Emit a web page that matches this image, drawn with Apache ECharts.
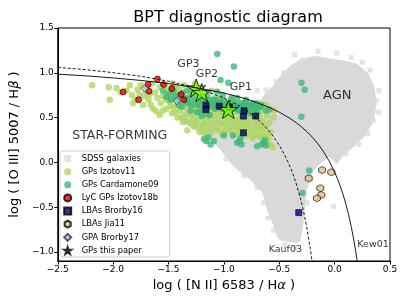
<!DOCTYPE html>
<html><head><meta charset="utf-8">
<script src="https://cdn.jsdelivr.net/npm/echarts@6/dist/echarts.min.js"></script>
<style>html,body{margin:0;padding:0;background:#fff}#c{width:407px;height:305px}</style>
</head><body><div id="c"></div>
<script>
// ---------- data ----------
const yTicks = [-1.0, -0.5, 0.0, 0.5, 1.0, 1.5];

const sdssOutline = [
  [-1.38,0.45],[-1.40,0.60],[-1.25,0.66],[-1.0,0.62],[-0.85,0.60],[-0.70,0.65],[-0.62,0.78],
  [-0.55,0.86],[-0.48,0.98],[-0.40,1.08],[-0.30,1.15],[-0.18,1.19],[-0.05,1.16],[0.08,1.14],
  [0.20,1.10],[0.30,1.00],[0.36,0.85],[0.38,0.65],[0.35,0.45],[0.28,0.30],[0.18,0.18],
  [0.08,0.08],[0.02,-0.02],[-0.05,0.06],[-0.12,0.0],[-0.19,-0.09],[-0.25,-0.30],[-0.27,-0.55],
  [-0.29,-0.75],[-0.31,-0.88],[-0.34,-0.90],[-0.49,-0.87],[-0.52,-0.83],[-0.56,-0.68],
  [-0.61,-0.53],[-0.65,-0.34],[-0.76,-0.20],[-0.91,-0.05],[-1.03,0.14],[-1.12,0.25],[-1.25,0.35]
];
const sdssPoints = [
  [-0.29,1.14],[-0.46,1.00],[-0.53,0.90],[-0.62,0.81],[-0.70,0.80],[-0.47,0.66],[-0.36,1.20],
  [-0.15,1.24],[0.02,1.22],[0.15,1.17],[0.25,1.12],[0.32,1.03],[0.38,0.69],[0.40,0.80],
  [0.35,0.47],[0.40,0.56],[0.30,0.32],[0.22,0.20],[0.10,0.10],[-0.01,-0.49],[-1.15,0.24],
  [-0.98,0.04],[-0.82,-0.15],[-0.70,-0.28],[-0.64,-0.45],[-0.60,-0.62],[-0.55,-0.76],
  [-0.45,-0.92],[-0.36,-0.95],[-0.25,-0.45],[-0.22,-0.20]
];
const izotov11 = [
  [-2.19,0.86],[-2.04,0.84],[-2.03,0.70],[-1.97,0.83],[-1.93,0.78],[-1.85,0.86],[-1.83,0.75],
  [-1.82,0.66],[-1.78,0.81],[-1.73,0.64],[-1.72,0.74],[-1.68,0.70],[-1.65,0.88],[-1.64,0.60],
  [-1.61,0.57],[-1.58,0.53],[-1.62,0.78],[-1.57,0.66],[-1.55,0.74],[-1.53,0.86],[-1.52,0.60],
  [-1.50,0.80],[-1.49,0.68],[-1.47,0.55],[-1.46,0.88],[-1.45,0.62],[-1.43,0.74],[-1.42,0.50],
  [-1.41,0.82],[-1.40,0.58],[-1.38,0.66],[-1.37,0.45],[-1.36,0.86],[-1.35,0.52],[-1.33,0.36],
  [-1.33,0.60],[-1.31,0.74],[-1.30,0.44],[-1.29,0.68],[-1.28,0.55],[-1.27,0.40],[-1.26,0.88],
  [-1.25,0.62],[-1.24,0.48],[-1.22,0.34],[-1.21,0.56],[-1.20,0.70],[-1.19,0.42],[-1.18,0.62],
  [-1.16,0.50],[-1.15,0.36],[-1.14,0.56],[-1.12,0.44],[-1.11,0.80],[-1.10,0.66],[-1.09,0.52],
  [-1.07,0.38],[-1.06,0.58],[-1.05,0.46],[-1.03,0.72],[-1.02,0.32],[-1.01,0.54],[-0.99,0.42],
  [-0.98,0.62],[-0.97,0.50],[-0.95,0.36],[-0.94,0.70],[-0.92,0.46],[-0.91,0.56],[-0.89,0.40],
  [-0.88,0.64],[-0.86,0.33],[-0.85,0.50],[-0.84,0.44],[-0.82,0.60],[-0.80,0.38],[-0.79,0.52],
  [-0.77,0.46],[-0.76,0.30],[-0.75,0.58],[-0.73,0.40],[-0.72,0.52],[-0.70,0.34],[-0.69,0.46],
  [-0.67,0.28],[-0.66,0.40],[-0.64,0.22],[-0.63,0.34],[-0.61,0.52],[-0.60,0.28],[-0.58,0.20],
  [-0.56,0.17],[-0.55,0.50],[-0.55,0.58],[-0.62,0.64],[-0.66,0.58],[-1.18,0.33],[-0.84,0.33],
  [-1.75,0.86],[-1.70,0.80],[-1.66,0.64],[-1.60,0.72],[-1.58,0.84],[-1.55,0.58],[-1.52,0.70],
  [-1.48,0.63],[-1.47,0.76],[-1.44,0.56],[-1.43,0.84],[-1.39,0.50],[-1.38,0.71],[-1.35,0.64],
  [-1.34,0.46],[-1.32,0.54],[-1.30,0.80],[-1.28,0.49],[-1.27,0.62],[-1.25,0.42],[-1.23,0.56],
  [-1.22,0.68],[-1.20,0.38],[-1.19,0.50],[-1.17,0.44],[-1.16,0.60],[-1.13,0.40],[-1.13,0.50],
  [-1.11,0.34],[-1.10,0.58],[-1.08,0.45],[-1.08,0.72],[-1.05,0.36],[-1.04,0.52],[-1.02,0.43],
  [-1.00,0.60],[-0.99,0.35],[-0.98,0.48],[-0.96,0.42],[-0.96,0.55],[-0.93,0.38],[-0.93,0.52],
  [-0.90,0.44],[-0.90,0.32],[-0.87,0.48],[-0.87,0.38],[-0.85,0.56],[-0.83,0.40],[-0.81,0.48],
  [-0.80,0.30],[-0.78,0.42],[-0.76,0.52],[-0.75,0.36],[-0.74,0.27],[-0.71,0.44],[-0.71,0.30],
  [-0.68,0.38],[-0.68,0.52],[-0.65,0.46],[-0.65,0.30],[-0.62,0.40],[-0.61,0.24],[-0.59,0.44],
  [-0.58,0.34],[-1.88,0.80],[-1.80,0.70],[-1.76,0.76],[-1.69,0.84],[-1.67,0.76]
];
const cardamone09 = [
  [-1.06,1.21],[-0.91,1.07],[-1.03,0.92],[-0.96,0.89],[-0.30,0.89],[-0.27,0.81],[-0.30,0.51],
  [-0.23,-0.09],[-0.29,-0.34],
  [-1.55,0.80],[-1.50,0.76],[-1.48,0.70],[-1.45,0.78],[-1.42,0.68],[-1.40,0.75],[-1.38,0.62],
  [-1.35,0.72],[-1.33,0.80],[-1.32,0.66],[-1.30,0.58],[-1.28,0.76],[-1.26,0.70],[-1.24,0.64],
  [-1.22,0.74],[-1.20,0.58],[-1.18,0.68],[-1.15,0.74],[-1.13,0.62],[-1.10,0.70],[-1.08,0.60],
  [-1.05,0.66],[-1.02,0.60],[-1.00,0.68],[-0.98,0.56],[-0.95,0.64],[-0.92,0.60],[-0.90,0.66],
  [-0.87,0.58],[-0.85,0.66],[-0.83,0.62],[-0.80,0.68],[-0.78,0.62],[-0.75,0.64],[-0.72,0.60],
  [-0.70,0.66],[-0.67,0.62],[-0.62,0.58],[-0.59,0.59],
  [-1.06,0.79],[-1.01,0.75],[-0.93,0.72],[-0.88,0.72],[-0.80,0.70],
  [-1.18,0.26],[-1.12,0.20],[-1.09,0.24],[-0.86,0.24],[-0.84,0.20],[-0.64,0.22],[-0.62,0.19],
  [-0.70,0.18],[-1.00,0.30],[-0.92,0.30],
  [-1.52,0.73],[-1.47,0.82],[-1.44,0.72],[-1.41,0.64],[-1.37,0.78],[-1.34,0.68],[-1.31,0.72],
  [-1.29,0.64],[-1.27,0.80],[-1.23,0.70],[-1.21,0.64],[-1.19,0.74],[-1.16,0.66],[-1.14,0.70],
  [-1.12,0.66],[-1.09,0.64],[-1.07,0.70],[-1.04,0.62],[-1.03,0.68],[-0.99,0.62],[-0.97,0.66],
  [-0.94,0.58],[-0.91,0.63],[-0.89,0.60],[-0.86,0.62],[-0.84,0.58],[-0.82,0.66],[-0.79,0.64],
  [-0.77,0.60],[-0.74,0.66],[-0.73,0.62],[-0.69,0.62],[-0.66,0.64],[-1.16,0.24],[-1.14,0.28],
  [-0.88,0.22],[-0.85,0.27],[-0.66,0.20],[-0.63,0.25],[-1.24,0.56],[-1.20,0.52],[-1.16,0.55],
  [-1.13,0.53],[-0.81,0.56],[-0.76,0.55],[-0.70,0.56]
];
const lycIzotov18b = [
  [-1.60,0.93],[-1.685,0.87],[-1.545,0.87],[-1.47,0.825],[-1.91,0.787],[-1.676,0.795],
  [-1.386,0.758],[-1.362,0.70],[-1.77,0.70]
];
const lbaBrorby16 = [
  [-1.162,0.639],[-1.162,0.591],[-1.042,0.628],[-0.95,0.62],[-0.818,0.576],[-0.823,0.517],
  [-0.713,0.517],[-0.823,0.331],[-0.324,-0.56]
];
const lbaJia11 = [
  [-0.234,-0.177],[-0.113,-0.085],[-0.03,-0.11],[-0.129,-0.288],[-0.12,-0.363],[-0.16,-0.40]
];
const gpaBrorby17 = [[-1.716,0.825],[-1.425,0.685]];
const gpThisPaper = [[-1.25,0.83],[-1.20,0.78],[-0.96,0.59]];

const kew01 = [
  [-2.5,0.985],[-2.25,0.966],[-2.0,0.943],[-1.75,0.915],[-1.5,0.880],[-1.25,0.835],[-1.0,0.775],
  [-0.8,0.710],[-0.6,0.620],[-0.5,0.561],[-0.4,0.489],[-0.35,0.446],[-0.3,0.398],[-0.25,0.343],
  [-0.2,0.280],[-0.15,0.206],[-0.1,0.120],[-0.05,0.017],[0.0,-0.108],[0.025,-0.181],[0.05,-0.262],
  [0.075,-0.354],[0.1,-0.459],[0.125,-0.578],[0.15,-0.716],[0.175,-0.878],[0.19,-0.989],
  [0.2,-1.069],[0.21,-1.156]
];
const kauf03 = [
  [-2.5,1.061],[-2.25,1.035],[-2.0,1.002],[-1.75,0.961],[-1.5,0.906],[-1.25,0.831],[-1.0,0.719],
  [-0.9,0.658],[-0.8,0.582],[-0.75,0.5375],[-0.7,0.487],[-0.65,0.429],[-0.6,0.362],[-0.55,0.283],
  [-0.5,0.191],[-0.45,0.080],[-0.425,0.016],[-0.4,-0.056],[-0.375,-0.135],[-0.35,-0.225],
  [-0.325,-0.327],[-0.3,-0.443],[-0.275,-0.577],[-0.25,-0.733],[-0.22,-0.959],[-0.21,-1.046],
  [-0.2,-1.14]
];

// annotations: x, y, text, font size
const annX = [-1.32, -1.153, -0.847, 0.024, -1.94, -0.445, 0.347];
const annY = [1.092, 0.981, 0.836, 0.75, 0.294, -0.968, -0.92];
const annText = ['GP3', 'GP2', 'GP1', 'AGN', 'STAR-FORMING', 'Kauf03', 'Kew01'];
const annSize = [11, 11, 11, 13, 12.5, 9.5, 9.5];

// ---------- chart ----------
const STAR = 'path://M50,0L61.17,34.63L97.55,34.55L68.07,55.87L79.39,90.45L50,69L20.61,90.45L31.93,55.87L2.45,34.55L38.83,34.63Z';
const HEX = 'path://M50,0L93.3,25L93.3,75L50,100L6.7,75L6.7,25Z';
const SQ = 'path://M0,0L10,0L10,10L0,10Z';
const DIA = 'path://M5,0L10,5L5,10L0,5Z';
const CIR = 'circle';

const fmt = v => (v < 0 ? '\u2212' : '') + Math.abs(v).toFixed(1);
const chart = echarts.init(document.getElementById('c'));

const annData = annText.map((t, i) => ({
  value: [annX[i], annY[i]], name: t,
  label: { fontSize: annSize[i] }
}));

chart.setOption({
  animation: false,
  textStyle: { fontFamily: 'DejaVu Sans' },
  title: {
    text: 'BPT diagnostic diagram', left: 223, top: 5, textAlign: 'center',
    textStyle: { fontSize: 16, fontWeight: 'normal', color: '#000', fontFamily: 'DejaVu Sans' }
  },
  grid: { left: 56, right: 17, top: 28, bottom: 44, show: true, borderColor: '#000', borderWidth: 1 },
  xAxis: {
    type: 'value', min: -2.5, max: 0.5, interval: 0.5,
    axisLine: { show: true, onZero: false, lineStyle: { color: '#000', width: 1 } },
    axisTick: { show: true, length: 3.5, lineStyle: { color: '#000' } },
    axisLabel: { color: '#000', fontSize: 9, margin: 4, formatter: fmt },
    splitLine: { show: false },
    name: 'log ( [N II] 6583 / H{i|α} )', nameLocation: 'middle', nameGap: 17,
    nameTextStyle: { fontSize: 13, color: '#000', rich: { i: { fontSize: 13, fontStyle: 'italic', color: '#000' } } }
  },
  yAxis: {
    type: 'value', min: -1.1, max: 1.5,
    axisLine: { show: true, onZero: false, lineStyle: { color: '#000', width: 1 } },
    axisTick: { show: true, length: 3.5, customValues: yTicks, lineStyle: { color: '#000' } },
    axisLabel: { color: '#000', fontSize: 9, margin: 4, customValues: yTicks, formatter: fmt },
    splitLine: { show: false },
    name: 'log ( [O III] 5007 / H{i|β} )', nameLocation: 'middle', nameGap: 34, nameRotate: 90,
    nameTextStyle: { fontSize: 13, color: '#000', rich: { i: { fontSize: 13, fontStyle: 'italic', color: '#000' } } }
  },
  legend: {
    orient: 'vertical', left: 60, top: 151, padding: [3, 4, 2, 3],
    itemWidth: 18, itemHeight: 7, itemGap: 4.14,
    backgroundColor: 'rgba(255,255,255,0.85)', borderColor: '#d0d0d0', borderWidth: 1, borderRadius: 3,
    textStyle: { fontSize: 8.3, color: '#000', lineHeight: 9, width: 84 },
    selectedMode: false,
    data: [
      { name: 'SDSS galaxies', icon: SQ },
      { name: 'GPs Izotov11', icon: CIR },
      { name: 'GPs Cardamone09', icon: CIR },
      { name: 'LyC GPs Izotov18b', icon: CIR },
      { name: 'LBAs Brorby16', icon: SQ },
      { name: 'LBAs Jia11', icon: HEX },
      { name: 'GPA Brorby17', icon: DIA },
      { name: 'GPs this paper', icon: STAR }
    ]
  },
  series: [
    {
      type: 'custom', name: 'SDSS region', data: sdssOutline, encode: { x: 0, y: 1 }, silent: true,
      renderItem: function (params, api) {
        if (params.dataIndex !== 0) return null;
        const pts = sdssOutline.map(p => api.coord(p));
        return { type: 'polygon', shape: { points: pts }, style: { fill: '#d9d9d9' } };
      }
    },
    { type: 'scatter', name: 'SDSS galaxies', data: sdssPoints, symbol: 'rect', symbolSize: 5,
      itemStyle: { color: '#dcdcdc' } },
    { type: 'scatter', name: 'GPs Izotov11', data: izotov11, symbol: 'circle', symbolSize: 6.5,
      itemStyle: { color: '#aed662' } },
    { type: 'scatter', name: 'GPs Cardamone09', data: cardamone09, symbol: 'circle', symbolSize: 6.5,
      itemStyle: { color: '#3db877' } },
    { type: 'line', name: 'Kew01', data: kew01, showSymbol: false, silent: true,
      lineStyle: { color: '#000', width: 0.9 } },
    { type: 'line', name: 'Kauf03', data: kauf03, showSymbol: false, silent: true,
      lineStyle: { color: '#000', width: 0.9, type: [3, 2] } },
    { type: 'scatter', name: 'LyC GPs Izotov18b', data: lycIzotov18b, symbol: 'circle', symbolSize: 6,
      itemStyle: { color: '#ff0000', borderColor: '#000', borderWidth: 0.8 } },
    { type: 'scatter', name: 'LBAs Brorby16', data: lbaBrorby16, symbol: SQ, symbolSize: 6,
      itemStyle: { color: '#000080', borderColor: '#000', borderWidth: 0.8 } },
    { type: 'scatter', name: 'LBAs Jia11', data: lbaJia11, symbol: HEX, symbolSize: 7,
      itemStyle: { color: '#e2bd8c', borderColor: '#000', borderWidth: 0.8 } },
    { type: 'scatter', name: 'GPA Brorby17', data: gpaBrorby17, symbol: DIA, symbolSize: 7.5,
      itemStyle: { color: '#b0c4de', borderColor: '#333', borderWidth: 0.8 } },
    { type: 'scatter', name: 'GPs this paper', data: gpThisPaper, symbol: STAR, symbolSize: 19,
      symbolKeepAspect: true,
      itemStyle: { color: '#7cfc00', borderColor: '#000', borderWidth: 1 } },
    { type: 'scatter', name: 'annotations', data: annData, symbolSize: 0, silent: true,
      label: { show: true, position: 'inside', formatter: p => p.name, color: '#000', fontFamily: 'DejaVu Sans' } }
  ]
});
</script>
</body></html>
